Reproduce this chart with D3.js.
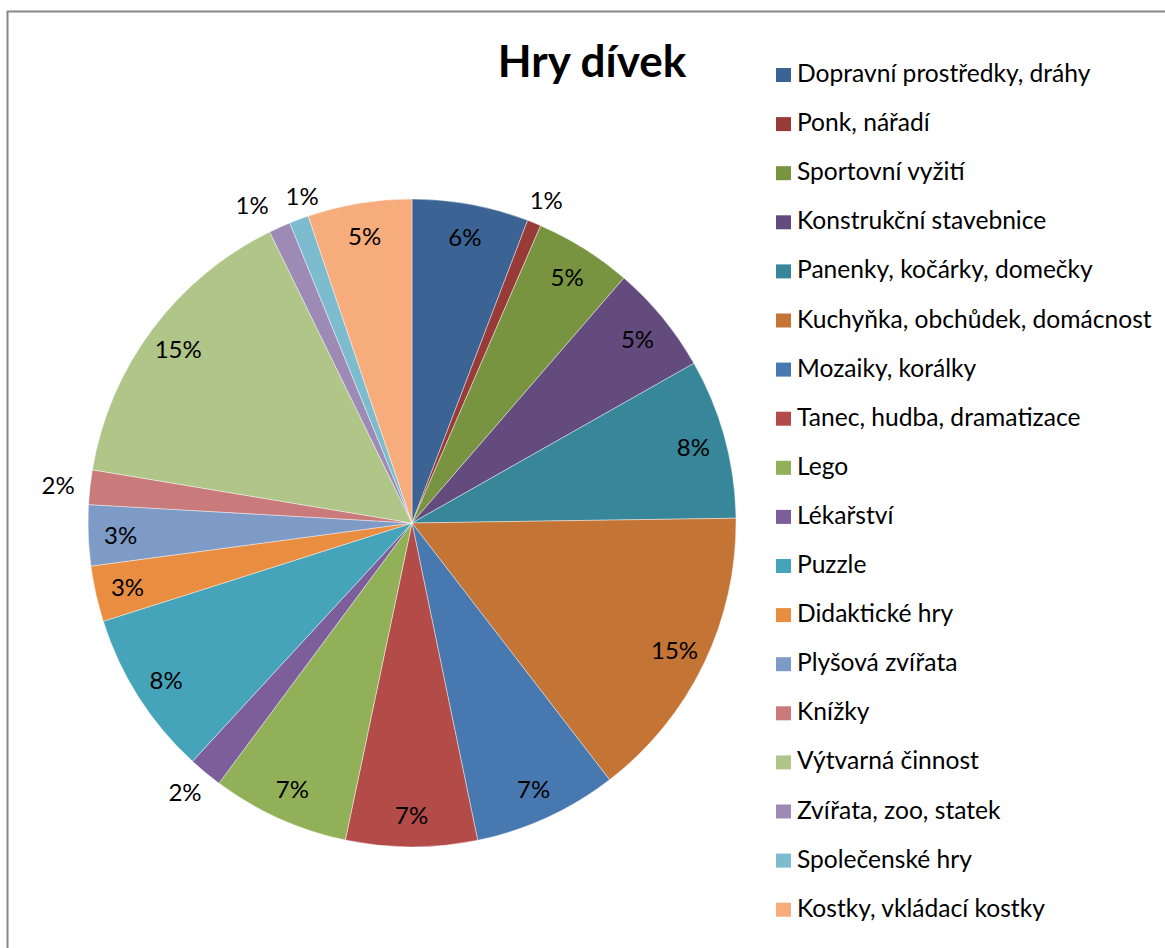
<!DOCTYPE html>
<html>
<head>
<meta charset="utf-8">
<script src="https://cdn.jsdelivr.net/npm/d3@7"></script>
<style>
  body { margin: 0; background: #fff; }
  text { font-family: Lato, "Open Sans", sans-serif; }
</style>
</head>
<body>
<div id="chart"></div>
<script>
var width = 1165,
  height = 948;

// DATA
var categories = [
  'Dopravní prostředky, dráhy',
  'Ponk, nářadí',
  'Sportovní vyžití',
  'Konstrukční stavebnice',
  'Panenky, kočárky, domečky',
  'Kuchyňka, obchůdek, domácnost',
  'Mozaiky, korálky',
  'Tanec, hudba, dramatizace',
  'Lego',
  'Lékařství',
  'Puzzle',
  'Didaktické hry',
  'Plyšová zvířata',
  'Knížky',
  'Výtvarná činnost',
  'Zvířata, zoo, statek',
  'Společenské hry',
  'Kostky, vkládací kostky'
];
var shares = [5.81, 0.69, 4.85, 5.45, 7.97, 14.8, 7.19, 6.55, 6.86, 1.69,
  8.25, 2.78, 3.03, 1.72, 15.14, 1.08, 0.97, 5.19];
var colors = ['#3b6394', '#983a38', '#789440', '#634c7d', '#37869a', '#c47536',
  '#4878b0', '#b34b49', '#92b057', '#7b5e9a', '#46a4ba', '#e98d41',
  '#7e9ac7', '#c87b7a', '#afc688', '#9e8bb5', '#7dbbcf', '#f7ac7b'];
var title = 'Hry dívek';

var rows = categories.map(function(c, i) {
  return { name: c, value: shares[i], color: colors[i] };
});

var svg = d3.select('#chart')
  .append('svg')
  .attr('width', width)
  .attr('height', height);

// chart border (only left and top visible)
svg.append('rect')
  .attr('x', 7.5)
  .attr('y', 11.5)
  .attr('width', 1300)
  .attr('height', 1100)
  .attr('fill', 'none')
  .attr('stroke', '#888')
  .attr('stroke-width', 2);

svg.append('text')
  .attr('x', 592)
  .attr('y', 77)
  .attr('text-anchor', 'middle')
  .style('font-size', '44px')
  .style('font-weight', 'bold')
  .text(title);

var cx = 412, cy = 523, r = 324;
var total = d3.sum(shares);

var pie = d3.pie()
  .value(function(d) { return d.value; })
  .sort(null);
var arc = d3.arc().innerRadius(0).outerRadius(r);

var arcs = pie(rows);

var g = svg.append('g')
  .attr('transform', 'translate(' + cx + ',' + cy + ')');

g.selectAll('path')
  .data(arcs)
  .join('path')
  .attr('d', arc)
  .attr('fill', function(d) { return d.data.color; })
  .attr('stroke', '#fff')
  .attr('stroke-width', 0.6)
  .attr('stroke-opacity', 0.7);

// labels: inside when slice is wide enough, else outside
var labels = arcs.map(function(d) {
  var pct = d.data.value / total * 100;
  var mid = (d.startAngle + d.endAngle) / 2;
  var inside = pct >= 2.5;
  var x, y;
  if (inside) {
    x = Math.sin(mid) * (r * 0.9);
    y = -Math.cos(mid) * (r * 0.9);
  } else {
    var rr = r + 12;
    x = Math.sin(mid) * rr + Math.sin(mid) * 20;
    y = -Math.cos(mid) * rr - Math.cos(mid) * 13;
  }
  return { text: Math.round(pct) + '%', x: x, y: y, inside: inside };
});

// push apart outside labels that collide
for (var k = 0; k < 5; k++) {
  for (var i = 0; i < labels.length; i++) {
    var j = (i + 1) % labels.length;
    var a = labels[i], b = labels[j];
    if (a.inside || b.inside) continue;
    var dx = b.x - a.x;
    if (Math.abs(dx) < 50 && Math.abs(b.y - a.y) < 24) {
      var push = (50 - Math.abs(dx)) / 2 * (dx >= 0 ? 1 : -1);
      a.x -= push;
      b.x += push;
    }
  }
}

g.selectAll('text.pct')
  .data(labels)
  .join('text')
  .attr('class', 'pct')
  .attr('x', function(d) { return d.x; })
  .attr('y', function(d) { return d.y; })
  .attr('text-anchor', 'middle')
  .attr('dominant-baseline', 'central')
  .style('font-size', '24px')
  .text(function(d) { return d.text; });

// legend
var legend = svg.append('g')
  .attr('transform', 'translate(776,68)');

var item = legend.selectAll('g')
  .data(rows)
  .join('g')
  .attr('transform', function(d, i) { return 'translate(0,' + (i * 49.1) + ')'; });

item.append('rect')
  .attr('width', 15)
  .attr('height', 14)
  .attr('fill', function(d) { return d.color; });

item.append('text')
  .attr('x', 21)
  .attr('y', 14)
  .style('font-size', '24.6px')
  .text(function(d) { return d.name; });
</script>
</body>
</html>
